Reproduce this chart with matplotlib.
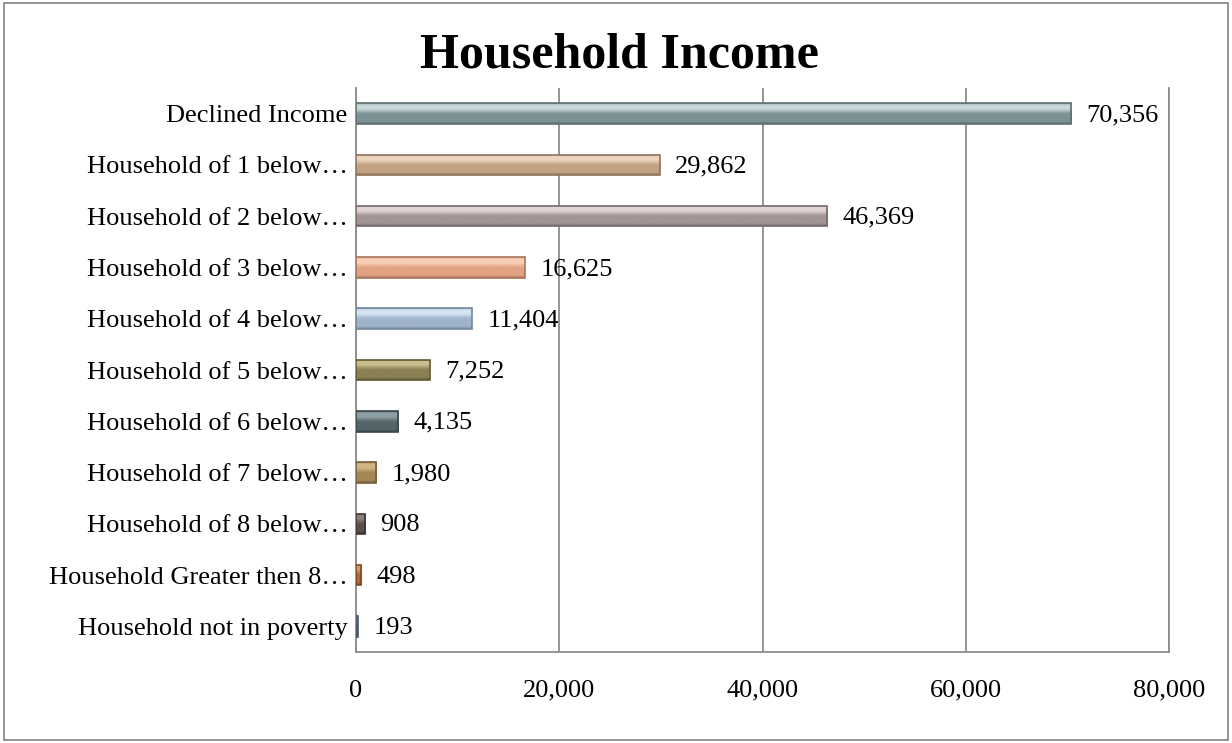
import matplotlib.pyplot as plt
import numpy as np
from matplotlib.colors import LinearSegmentedColormap
from matplotlib.patches import Rectangle
from matplotlib.ticker import FuncFormatter

categories = [
    'Declined Income',
    'Household of 1 below\u2026',
    'Household of 2 below\u2026',
    'Household of 3 below\u2026',
    'Household of 4 below\u2026',
    'Household of 5 below\u2026',
    'Household of 6 below\u2026',
    'Household of 7 below\u2026',
    'Household of 8 below\u2026',
    'Household Greater then 8\u2026',
    'Household not in poverty',
]
values = [70356, 29862, 46369, 16625, 11404, 7252, 4135, 1980, 908, 498, 193]

base_colors = ['#7c9294', '#c4a385', '#a39594', '#e0a282', '#a0b4cc', '#898054',
               '#546569', '#a58756', '#5c504b', '#b26a36', '#637587']
light_colors = ['#c9dadc', '#ecd6c0', '#e2d6d4', '#f8d0b8', '#d6e3f1', '#c8bf8e',
                '#8fa0a4', '#d2b683', '#8c807a', '#dc9a66', '#a2b2c2']
edge_colors = ['#5f6f71', '#8f7459', '#77696a', '#a87459', '#74879e', '#615a36',
               '#3b4649', '#76603a', '#3f3632', '#7e4a22', '#465463']
x_ticks = [0, 20000, 40000, 60000, 80000]

plt.rcParams['font.family'] = ['Liberation Serif', 'DejaVu Serif']

fig = plt.figure(figsize=(12.32, 7.43), dpi=100)
ax = fig.add_axes([0.289, 0.1225, 0.66, 0.759])

y = list(range(len(categories)))
h = 0.4
bars = ax.barh(y, values, height=h, color=base_colors, linewidth=0, zorder=3)

# bevelled look: vertical gradient clipped to each bar
grad = np.linspace(0, 1, 64).reshape(-1, 1)
for bar, lc, bc, ec in zip(bars, light_colors, base_colors, edge_colors):
    cmap = LinearSegmentedColormap.from_list(
        'bev', [(0, bc), (0.08, lc), (0.28, lc), (0.5, bc), (0.88, bc), (1, ec)])
    x0, y0 = bar.get_x(), bar.get_y()
    im = ax.imshow(grad, cmap=cmap, aspect='auto', zorder=3.5,
                   extent=(x0, x0 + bar.get_width(), y0 + bar.get_height(), y0),
                   origin='upper', interpolation='bicubic')
    im.set_clip_path(bar)
ax.barh(y, values, height=h, fill=False, edgecolor=edge_colors, linewidth=1.2, zorder=4)

for yi, v in zip(y, values):
    ax.text(v + 1500, yi + 0.03, f'{v:,}', va='center', ha='left', fontsize=19, zorder=5)

ax.set_xlim(0, 80000)
ax.set_ylim(len(categories) - 0.5, -0.5)
ax.set_aspect('auto')
ax.set_xticks(x_ticks)
ax.xaxis.set_major_formatter(FuncFormatter(lambda v, p: f'{int(v):,}'))
ax.set_yticks(y)
ax.set_yticklabels(categories)
ax.tick_params(axis='x', length=0, pad=20, labelsize=19)
ax.tick_params(axis='y', length=0, pad=6, labelsize=19)
ax.grid(axis='x', color='#8c8c8c', linewidth=1.3, zorder=0)
ax.spines['top'].set_visible(False)
for side in ['left', 'bottom', 'right']:
    ax.spines[side].set_color('#8c8c8c')
    ax.spines[side].set_linewidth(1.3)

fig.text(0.503, 0.925, 'Household Income', ha='center', va='center',
         fontsize=36, fontweight='bold')

fig.patches.append(Rectangle((0.003, 0.004), 0.994, 0.992, transform=fig.transFigure,
                             fill=False, edgecolor='#8c8c8c', linewidth=1.3))

fig.savefig('out.png', dpi=100)
